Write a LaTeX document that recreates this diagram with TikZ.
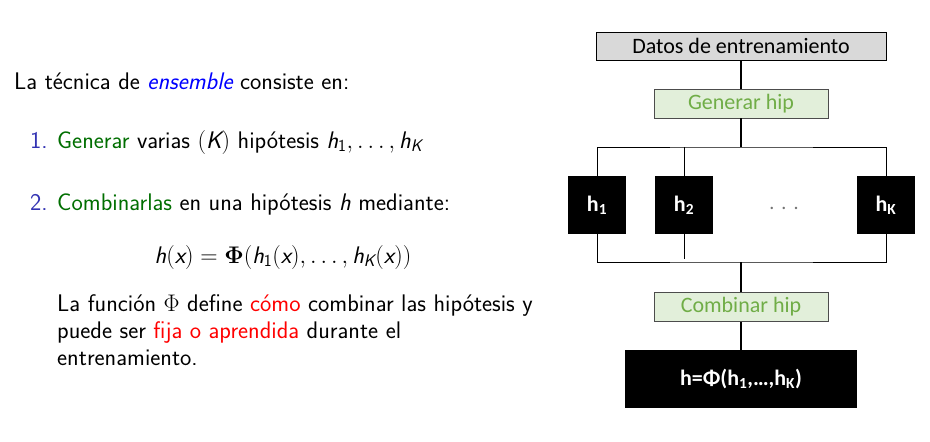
\RequirePackage{fix-cm}
\documentclass[tikz,border=0pt]{standalone}
\usepackage{amsmath}
\usepackage{fontspec}
\newfontfamily\calibri{Carlito}
\usetikzlibrary{positioning}
\definecolor{strucblue}{RGB}{51,51,179}
\definecolor{darkgreen}{RGB}{0,110,0}
\definecolor{hipgreen}{RGB}{112,173,71}
\definecolor{hipfill}{RGB}{226,239,218}
\definecolor{datafill}{RGB}{217,217,217}
\newcommand\mi[1]{\textsf{\itshape #1}}
\begin{document}
\begin{tikzpicture}[x=1pt,y=-1pt,
  body/.style={anchor=base west,inner sep=0pt,font=\fontsize{24}{27}\selectfont\sffamily},
  databox/.style={draw=black,fill=datafill,line width=0.8pt,minimum width=290pt,minimum height=28pt,inner sep=0pt,font=\fontsize{22}{24}\selectfont\calibri},
  hipbox/.style={draw=black!70,fill=hipfill,line width=0.8pt,minimum width=174pt,minimum height=29pt,inner sep=0pt,text=hipgreen,font=\fontsize{22}{24}\selectfont\calibri},
  hbox/.style={fill=black,minimum width=58pt,minimum height=58pt,inner sep=0pt,text=white,font=\fontsize{22}{24}\selectfont\calibri\bfseries},
  outbox/.style={fill=black,minimum width=232pt,minimum height=58pt,inner sep=0pt,text=white,font=\fontsize{22}{24}\selectfont\calibri\bfseries},
  thick link/.style={line width=1.6pt},
  thin link/.style={line width=0.9pt}]
\useasboundingbox (0,0) rectangle (930,442);

% ---- text column ----
\node[body] (intro) at (14,89) {La técnica de \textcolor{blue}{\itshape ensemble} consiste en:};
\node[body,text=strucblue] (n1) at (30,148) {1.};
\node[body] (item1) at (57,148) {\textcolor{darkgreen}{Generar} varias $(\mi{K})$ hipótesis $\mi{h}_{\textsf{1}},\ldots,\mi{h}_{\mi{K}}$};
\node[body,text=strucblue] (n2) at (30,210) {2.};
\node[body] (item2) at (57,210) {\textcolor{darkgreen}{Combinarlas} en una hipótesis \mi{h} mediante:};
\node[body,anchor=base] (formula) at (283,263) {$\mi{h}(\mi{x})=\boldsymbol{\Phi}(\mi{h}_{\textsf{1}}(\mi{x}),\ldots,\mi{h}_{\mi{K}}(\mi{x}))$};
\node[body] (l1) at (57,311) {La función $\Phi$ define \textcolor{red}{cómo} combinar las hipótesis y};
\node[body] (l2) at (57,338) {puede ser \textcolor{red}{fija o aprendida} durante el};
\node[body] (l3) at (57,365) {entrenamiento.};

% ---- diagram ----
\node[databox] (datos) at (741,46) {Datos de entrenamiento};
\node[hipbox] (gen) at (741,103.5) {Generar hip};
\node[hbox] (h1) at (597,205) {h\textsubscript{1}};
\node[hbox] (h2) at (684,205) {h\textsubscript{2}};
\node[text=black!55,font=\fontsize{20}{24}\selectfont\calibri] (dots) at (784,208) {.\hspace{7pt}.\hspace{7pt}.};
\node[hbox] (hK) at (886,205) {h\textsubscript{K}};
\node[hipbox] (comb) at (741,307) {Combinar hip};
\node[outbox] (out) at (741,379) {h=Φ(h\textsubscript{1},…,h\textsubscript{K})};

\coordinate (split) at (741,147);
\coordinate (join) at (741,262);

\draw[thick link] (datos.south) -- (gen.north);
\draw[thick link] (gen.south) -- (split);
\draw[thin link] (h1.north) |- (split) -| (hK.north);
\draw[thin link] (h2.north) -- (h2.north |- split);
\draw[thin link] (h1.south) |- (join) -| (hK.south);
\draw[thin link] (h2.south) -- ([yshift=3pt]h2.south |- join);
\draw[thick link] (join) -- (comb.north);
\draw[thick link] (comb.south) -- (out.north);
\end{tikzpicture}
\end{document}
